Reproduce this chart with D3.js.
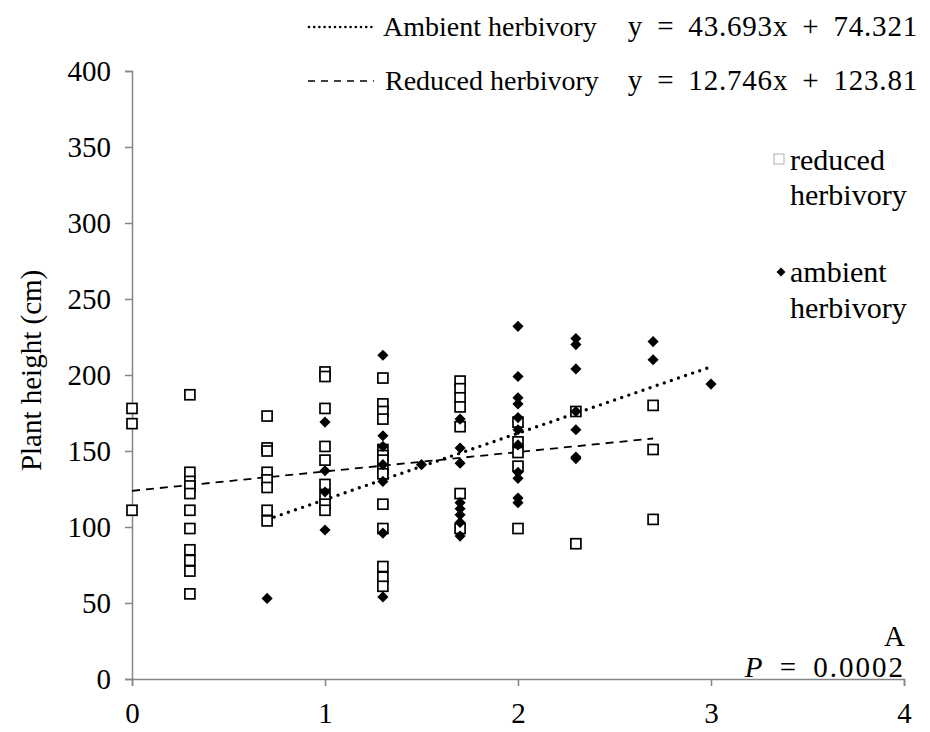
<!DOCTYPE html>
<html>
<head>
<meta charset="utf-8">
<script src="https://cdn.jsdelivr.net/npm/d3@7"></script>
<style>
  body { margin: 0; background: #fff; }
  svg text { font-family: "Liberation Serif", "Times New Roman", serif !important; fill: #000; }
</style>
</head>
<body>
<script>
// data
var reducedX = [0, 0, 0,
  0.3, 0.3, 0.3, 0.3, 0.3, 0.3, 0.3, 0.3, 0.3, 0.3, 0.3,
  0.7, 0.7, 0.7, 0.7, 0.7, 0.7, 0.7, 0.7,
  1, 1, 1, 1, 1, 1, 1, 1, 1,
  1.3, 1.3, 1.3, 1.3, 1.3, 1.3, 1.3, 1.3, 1.3, 1.3, 1.3, 1.3, 1.3, 1.3,
  1.7, 1.7, 1.7, 1.7, 1.7, 1.7, 1.7,
  2, 2, 2, 2, 2,
  2.3, 2.3,
  2.7, 2.7, 2.7];
var reducedY = [178, 168, 111,
  187, 136, 130, 127, 122, 111, 99, 85, 78, 71, 56,
  173, 152, 150, 136, 131, 126, 111, 104,
  202, 199, 178, 153, 144, 128, 121, 115, 111,
  198, 181, 176, 171, 151, 147, 144, 138, 135, 115, 99, 74, 67, 61,
  196, 191, 185, 179, 166, 122, 99,
  169, 156, 149, 140, 99,
  176, 89,
  180, 151, 105];
var ambientX = [0.7,
  1, 1, 1, 1,
  1.3, 1.3, 1.3, 1.3, 1.3, 1.3, 1.3,
  1.5,
  1.7, 1.7, 1.7, 1.7, 1.7, 1.7, 1.7, 1.7,
  2, 2, 2, 2, 2, 2, 2, 2, 2, 2, 2,
  2.3, 2.3, 2.3, 2.3, 2.3, 2.3, 2.3,
  2.7, 2.7,
  3];
var ambientY = [53,
  169, 137, 123, 98,
  213, 160, 153, 141, 130, 96, 54,
  141,
  171, 152, 142, 116, 112, 108, 103, 94,
  232, 199, 185, 181, 172, 164, 154, 136, 132, 119, 116,
  224, 220, 204, 176, 164, 146, 145,
  222, 210,
  194];
// trendlines: [slope, intercept, x start, x end]
var ambientFit = [43.693, 74.321, 0.7, 3];
var reducedFit = [12.746, 123.81, 0, 2.7];
var xTicks = [0, 1, 2, 3, 4];
var yTicks = [0, 50, 100, 150, 200, 250, 300, 350, 400];

var W = 930, H = 732;
var mLeft = 132, mRight = 904, mTop = 71, mBottom = 679;
var axisColor = "#868686";
var serif = '"Liberation Serif", "Times New Roman", serif';

var svg = d3.select("body").append("svg")
  .attr("width", W)
  .attr("height", H)
  .style("font-family", serif);

var x = d3.scaleLinear().domain([0, 4]).range([mLeft, mRight]);
var y = d3.scaleLinear().domain([0, 400]).range([mBottom, mTop]);

function label(g, px, py, size, str) {
  return g.append("text")
    .attr("x", px).attr("y", py)
    .style("font-family", serif)
    .style("font-size", size + "px")
    .text(str);
}

// axes
var yAxis = svg.append("g")
  .attr("transform", "translate(" + mLeft + ",0)")
  .call(d3.axisLeft(y).tickValues(yTicks).tickSize(7).tickPadding(14));
var xAxis = svg.append("g")
  .attr("transform", "translate(0," + mBottom + ")")
  .call(d3.axisBottom(x).tickValues(xTicks).tickFormat(d3.format("d")).tickSize(7).tickPadding(16));
[xAxis, yAxis].forEach(function (g) {
  g.attr("font-family", null).attr("font-size", null);
  g.select(".domain").attr("stroke", axisColor).attr("stroke-width", 1.5);
  g.selectAll(".tick line").attr("stroke", axisColor).attr("stroke-width", 1.5);
  g.selectAll(".tick text")
    .style("font-family", serif)
    .style("font-size", "29px")
    .attr("fill", "#000");
});

label(svg, 0, 0, 29, "Plant height (cm)")
  .attr("transform", "translate(41," + y(203) + ") rotate(-90)")
  .attr("text-anchor", "middle");

// trendlines
function fitLine(f) {
  return [[f[2], f[0] * f[2] + f[1]], [f[3], f[0] * f[3] + f[1]]];
}
var line = d3.line()
  .x(function (d) { return x(d[0]); })
  .y(function (d) { return y(d[1]); });

svg.append("path")
  .attr("d", line(fitLine(reducedFit)))
  .attr("fill", "none")
  .attr("stroke", "#000")
  .attr("stroke-width", 1.8)
  .attr("stroke-dasharray", "8,6");

svg.append("path")
  .attr("d", line(fitLine(ambientFit)))
  .attr("fill", "none")
  .attr("stroke", "#000")
  .attr("stroke-width", 3.4)
  .attr("stroke-linecap", "round")
  .attr("stroke-dasharray", "0,7.5");

// points
var sq = 10;
var diamond = d3.symbol().type(d3.symbolSquare).size(62);

svg.append("g").selectAll("rect")
  .data(reducedX.map(function (v, i) { return [v, reducedY[i]]; }))
  .join("rect")
  .attr("x", function (d) { return x(d[0]) - sq / 2; })
  .attr("y", function (d) { return y(d[1]) - sq / 2; })
  .attr("width", sq)
  .attr("height", sq)
  .attr("fill", "#fff")
  .attr("stroke", "#000")
  .attr("stroke-width", 1.7);

svg.append("g").selectAll("path")
  .data(ambientX.map(function (v, i) { return [v, ambientY[i]]; }))
  .join("path")
  .attr("d", diamond)
  .attr("transform", function (d) { return "translate(" + x(d[0]) + "," + y(d[1]) + ") rotate(45)"; })
  .attr("fill", "#000");

// top legend (trendlines)
var topLeg = svg.append("g");
topLeg.append("line")
  .attr("x1", 309).attr("x2", 376).attr("y1", 27).attr("y2", 27)
  .attr("stroke", "#000").attr("stroke-width", 2.6)
  .attr("stroke-linecap", "round").attr("stroke-dasharray", "0,5.2");
topLeg.append("line")
  .attr("x1", 308).attr("x2", 374).attr("y1", 81).attr("y2", 81)
  .attr("stroke", "#000").attr("stroke-width", 1.4)
  .attr("stroke-dasharray", "7,6");
label(topLeg, 383, 36, 28, "Ambient herbivory");
label(topLeg, 385, 90, 28, "Reduced herbivory");
label(topLeg, 918, 36, 29, "y = 43.693x + 74.321")
  .attr("text-anchor", "end").style("word-spacing", "6px").style("letter-spacing", "0.8px");
label(topLeg, 918, 90, 29, "y = 12.746x + 123.81")
  .attr("text-anchor", "end").style("word-spacing", "6px").style("letter-spacing", "0.8px");

// right legend (markers)
var rLeg = svg.append("g");
rLeg.append("rect")
  .attr("x", 774).attr("y", 154).attr("width", 10).attr("height", 10)
  .attr("fill", "#fff").attr("stroke", "#bbb").attr("stroke-width", 1.2);
rLeg.append("path")
  .attr("d", d3.symbol().type(d3.symbolSquare).size(40))
  .attr("transform", "translate(781,272) rotate(45)")
  .attr("fill", "#000");
label(rLeg, 790, 170, 30, "reduced");
label(rLeg, 790, 205, 30, "herbivory");
label(rLeg, 790, 282, 30, "ambient");
label(rLeg, 790, 318, 30, "herbivory");

// panel annotations
label(svg, 905, 646, 29, "A").attr("text-anchor", "end");
var pText = label(svg, 905, 677, 29, null)
  .attr("text-anchor", "end")
  .style("word-spacing", "6px")
  .style("letter-spacing", "2px");
pText.append("tspan").style("font-style", "italic").text("P");
pText.append("tspan").text(" = 0.0002");
</script>
</body>
</html>
